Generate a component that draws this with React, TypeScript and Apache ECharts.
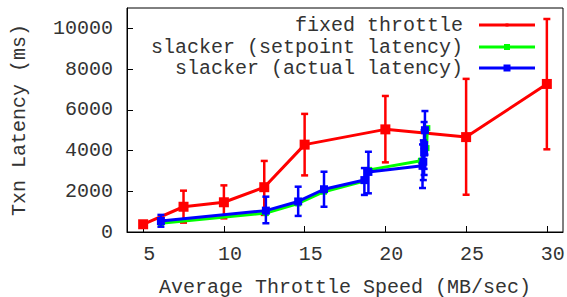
import React, { useEffect, useRef } from "react";
import * as echarts from "echarts";

// fixed throttle
const fixedX = [5, 7.5, 10, 12.5, 15, 20, 25, 30];
const fixedY = [380, 1240, 1460, 2200, 4290, 5040, 4660, 7270];
const fixedLo = [260, 460, 670, 840, 2780, 3420, 1830, 4060];
const fixedHi = [520, 2030, 2290, 3490, 5800, 6680, 7520, 10460];

// slacker (setpoint latency)
const setX = [6.1, 12.6, 14.6, 16.2, 18.7, 19.0, 22.2, 22.55, 22.6];
const setY = [430, 930, 1400, 1980, 2500, 3050, 3500, 4120, 5100];

// slacker (actual latency)
const actX = [6.1, 12.6, 14.6, 16.2, 18.7, 18.95, 22.3, 22.35, 22.4, 22.4, 22.45];
const actY = [540, 1050, 1500, 2100, 2550, 2950, 3250, 3450, 3900, 4270, 5000];
const actLo = [260, 430, 790, 1240, 1820, 1900, 2160, 2550, 2800, 3100, 3800];
const actHi = [840, 1735, 2225, 2960, 3140, 3940, 4300, 4500, 5000, 5400, 5940];

const xTicks = [5, 10, 15, 20, 25, 30];
const legendNames = ["fixed throttle", "slacker (setpoint latency)", "slacker (actual latency)"];
const colors = ["#ff0000", "#00ff00", "#0000ff"];

const FONT = "Liberation Mono, Courier New, monospace";

function errorSeries(xs: number[], lo: number[], hi: number[], color: string, z: number) {
  return {
    type: "custom",
    z,
    data: xs.map((x, i) => [x, lo[i], hi[i]]),
    encode: { x: 0, y: [1, 2] },
    silent: true,
    renderItem: (params: any, api: any) => {
      const x = api.value(0);
      const p1 = api.coord([x, api.value(1)]);
      const p2 = api.coord([x, api.value(2)]);
      const cw = 3.5;
      const style = { stroke: color, lineWidth: 2.5 };
      return {
        type: "group",
        children: [
          { type: "line", shape: { x1: p1[0], y1: p1[1], x2: p2[0], y2: p2[1] }, style },
          { type: "line", shape: { x1: p1[0] - cw, y1: p1[1], x2: p1[0] + cw, y2: p1[1] }, style },
          { type: "line", shape: { x1: p2[0] - cw, y1: p2[1], x2: p2[0] + cw, y2: p2[1] }, style },
        ],
      };
    },
  };
}

export default function App() {
  const ref = useRef<HTMLDivElement>(null);
  useEffect(() => {
    document.body.style.margin = "0";
    const chart = echarts.init(ref.current!, undefined, { renderer: "svg" });
    const legendRows = [25, 47, 68];
    const graphics: any[] = [];
    legendNames.forEach((name, i) => {
      const y = legendRows[i];
      graphics.push({
        type: "text",
        x: 463,
        y,
        style: { text: name, fill: "#333", fontFamily: FONT, fontSize: 20, align: "right", verticalAlign: "middle" },
      });
      graphics.push({
        type: "line",
        shape: { x1: 479, y1: y, x2: 535, y2: y },
        style: { stroke: colors[i], lineWidth: 3 },
      });
      const s = i === 0 ? 3 : i === 1 ? 6 : 7;
      graphics.push({
        type: "rect",
        shape: { x: 507 - s / 2, y: y - s / 2, width: s, height: s },
        style: { fill: colors[i] },
      });
    });
    chart.setOption({
      animation: false,
      grid: {
        left: 127, top: 8, right: 4, bottom: 65, show: true,
        borderColor: "#000", borderWidth: 1, backgroundColor: "transparent",
        outerBoundsMode: "none", containLabel: false,
      },
      xAxis: {
        type: "value",
        min: 4,
        max: 31,
        name: "Average Throttle Speed (MB/sec)",
        nameLocation: "middle",
        nameGap: 45,
        nameTextStyle: { fontFamily: FONT, fontSize: 20, color: "#333" },
        axisLine: { show: true, lineStyle: { color: "#000", width: 1 } },
        axisTick: { show: true, inside: true, length: 6, lineStyle: { color: "#000" }, customValues: xTicks },
        axisLabel: { fontFamily: FONT, fontSize: 20, color: "#333", margin: 12, padding: [0, 0, 0, 12], customValues: xTicks },
        splitLine: { show: false },
      },
      yAxis: {
        type: "value",
        min: 0,
        max: 11000,
        interval: 2000,
        name: "Txn Latency (ms)",
        nameLocation: "middle",
        nameGap: 98,
        nameTextStyle: { fontFamily: FONT, fontSize: 20, color: "#333" },
        axisLine: { show: true, lineStyle: { color: "#000", width: 1 } },
        axisTick: { show: true, inside: true, length: 6, lineStyle: { color: "#000" } },
        axisLabel: {
          fontFamily: FONT, fontSize: 20, color: "#333", margin: 14, showMaxLabel: false,
          formatter: (v: number) => String(v),
        },
        splitLine: { show: false },
      },
      graphic: graphics,
      series: [
        errorSeries(fixedX, fixedLo, fixedHi, colors[0], 2),
        {
          type: "line",
          name: legendNames[0],
          z: 3,
          data: fixedX.map((x, i) => [x, fixedY[i]]),
          symbol: "rect",
          symbolSize: 10,
          itemStyle: { color: colors[0] },
          lineStyle: { color: colors[0], width: 3 },
        },
        {
          type: "line",
          name: legendNames[1],
          z: 4,
          data: setX.map((x, i) => [x, setY[i]]),
          symbol: "rect",
          symbolSize: 6,
          itemStyle: { color: colors[1] },
          lineStyle: { color: colors[1], width: 3 },
        },
        errorSeries(actX, actLo, actHi, colors[2], 5),
        {
          type: "line",
          name: legendNames[2],
          z: 6,
          data: actX.map((x, i) => [x, actY[i]]),
          symbol: "rect",
          symbolSize: 8,
          itemStyle: { color: colors[2] },
          lineStyle: { color: colors[2], width: 3 },
        },
      ],
    });
    return () => chart.dispose();
  }, []);
  return <div ref={ref} style={{ width: 567, height: 297 }} />;
}
